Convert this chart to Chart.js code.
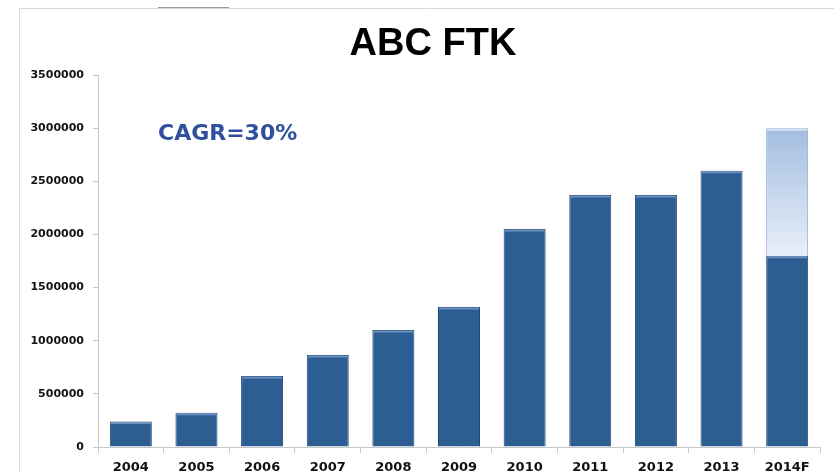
<!DOCTYPE html>
<html>
<head>
<meta charset="utf-8">
<script src="https://cdn.jsdelivr.net/npm/chart.js@4/dist/chart.umd.min.js"></script>
<style>
  html, body { margin: 0; padding: 0; background: #fff; }
  #wrap { width: 834px; height: 473px; position: relative; }
</style>
</head>
<body>
<div id="wrap"><canvas id="ftkChart"></canvas></div>
<script>
// FTK by year, 2014 is a forecast (actual part + projected part)
const years = ["2004", "2005", "2006", "2007", "2008", "2009", "2010", "2011", "2012", "2013", "2014F"];
const ftkActual = [240000, 322000, 668000, 866000, 1100000, 1317000, 2051000, 2371000, 2371000, 2600000, 1800000];
const ftkForecast = [null, null, null, null, null, null, null, null, null, null, 1200000];
const yTicks = [0, 500000, 1000000, 1500000, 2000000, 2500000, 3000000, 3500000];
const chartTitle = "ABC FTK";
const cagrLabel = "CAGR=30%";

// frame lines, title and CAGR note
const decorPlugin = {
  id: "decor",
  beforeDraw(chart) {
    const c = chart.ctx;
    c.save();
    c.strokeStyle = "#d9d9d9";
    c.lineWidth = 1;
    c.beginPath();
    c.moveTo(19.5, 473);
    c.lineTo(19.5, 8.5);
    c.lineTo(834, 8.5);
    c.stroke();
    c.strokeStyle = "#9a9a9a";
    c.beginPath();
    c.moveTo(158, 7.5);
    c.lineTo(229, 7.5);
    c.stroke();
    c.restore();
  },
  afterDatasetsDraw(chart) {
    // light bevel line along the top of every bar
    const c = chart.ctx;
    c.save();
    chart.data.datasets.forEach((ds, i) => {
      const meta = chart.getDatasetMeta(i);
      c.strokeStyle = i === 0 ? "#6d92c0" : "#d8e4f3";
      c.lineWidth = 2;
      meta.data.forEach((bar, j) => {
        if (ds.data[j] == null) return;
        const half = bar.width / 2 - 1;
        c.beginPath();
        c.moveTo(bar.x - half, bar.y + 1.5);
        c.lineTo(bar.x + half, bar.y + 1.5);
        c.stroke();
      });
    });
    c.restore();
  },
  afterDraw(chart) {
    const c = chart.ctx;
    c.save();
    c.fillStyle = "#000";
    c.textAlign = "center";
    c.textBaseline = "alphabetic";
    c.font = "bold 38px 'Liberation Sans'";
    c.fillText(chartTitle, 433, 55);

    c.font = "bold 22px 'DejaVu Sans'";
    c.fillStyle = "#2f4f9f";
    c.textAlign = "left";
    c.textBaseline = "middle";
    c.fillText(cagrLabel, 158, 134);
    c.restore();
  }
};

function forecastFill(context) {
  const chart = context.chart;
  if (!chart.chartArea) return "#c5d5ec";
  const y = chart.scales.y;
  const g = chart.ctx.createLinearGradient(0, y.getPixelForValue(3000000), 0, y.getPixelForValue(1800000));
  g.addColorStop(0, "#a3bde0");
  g.addColorStop(1, "#e8eff9");
  return g;
}

new Chart(document.getElementById("ftkChart"), {
  type: "bar",
  data: {
    labels: years,
    datasets: [
      {
        label: "FTK",
        data: ftkActual,
        backgroundColor: "#2c5e94",
        borderColor: "#1f4874",
        borderWidth: 1,
        barPercentage: 0.64,
        categoryPercentage: 1,
        stack: "ftk",
      },
      {
        label: "FTK forecast",
        data: ftkForecast,
        backgroundColor: forecastFill,
        borderColor: "#8aa6cc",
        borderWidth: 1,
        barPercentage: 0.64,
        categoryPercentage: 1,
        stack: "ftk",
      },
    ],
  },
  options: {
    responsive: true,
    maintainAspectRatio: false,
    animation: false,
    layout: { padding: { left: 0, right: 14, top: 75, bottom: 0 } },
    plugins: {
      legend: { display: false },
      tooltip: { enabled: false },
      title: { display: false },
    },
    scales: {
      x: {
        stacked: true,
        afterFit(scale) {
          scale.height = 26;
        },
        grid: {
          display: true,
          offset: true,
          drawOnChartArea: false,
          color: "#c8c8c8",
          tickLength: 6,
        },
        border: { color: "#c8c8c8" },
        ticks: {
          color: "#111",
          font: { family: "'DejaVu Sans'", size: 13, weight: "bold" },
          padding: 7,
          maxRotation: 0,
        },
      },
      y: {
        stacked: true,
        min: 0,
        max: 3500000,
        afterBuildTicks(scale) {
          scale.ticks = yTicks.map((v) => ({ value: v }));
        },
        afterFit(scale) {
          scale.width = 98;
        },
        grid: {
          display: true,
          drawOnChartArea: false,
          color: "#c8c8c8",
          tickLength: 5,
        },
        border: { color: "#c8c8c8" },
        ticks: {
          color: "#111",
          font: { family: "'DejaVu Sans'", size: 11, weight: "bold" },
          padding: 9,
          callback: (v) => String(v),
        },
      },
    },
  },
  plugins: [decorPlugin],
});
</script>
</body>
</html>
